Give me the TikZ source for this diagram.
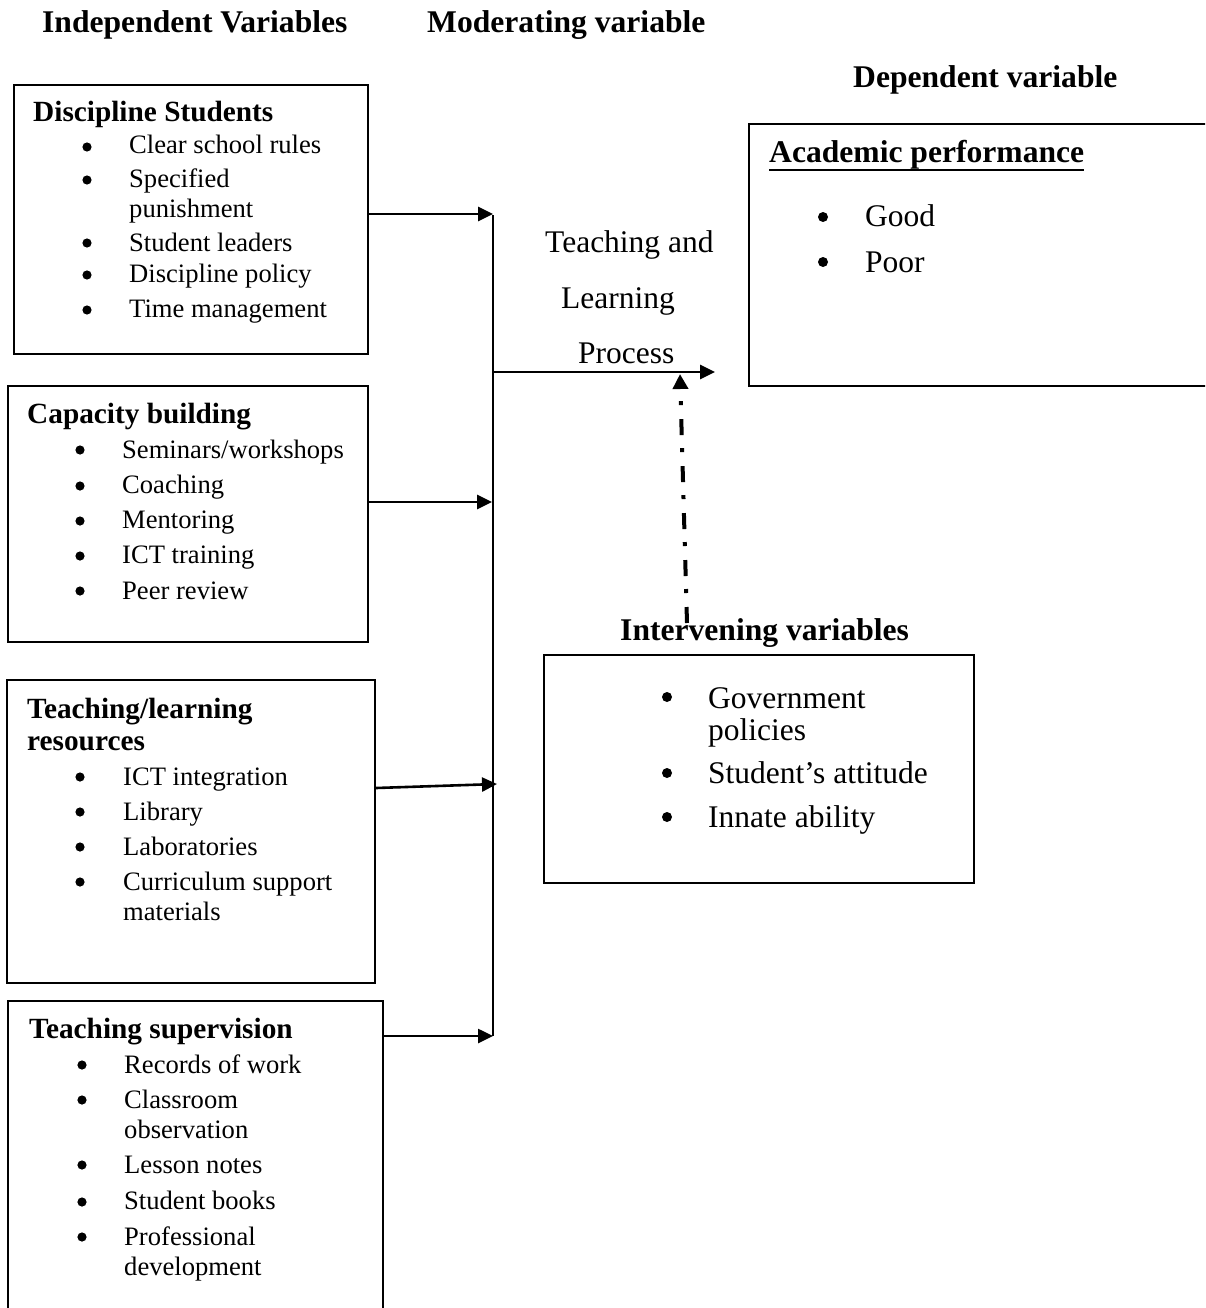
\documentclass[tikz,border=0pt]{standalone}
\usepackage{fontspec}
\setmainfont{Liberation Serif}
\usetikzlibrary{arrows.meta}
\begin{document}
\begin{tikzpicture}[x=1pt,y=-1pt,
  box/.style={draw, line width=2pt, anchor=north west, inner sep=0pt},
  txt/.style={anchor=base west, inner sep=0pt},
  hd/.style={txt, font=\fontsize{31.6}{36}\selectfont\bfseries},
  ttl/.style={txt, font=\fontsize{29.3}{34}\selectfont\bfseries},
  itm/.style={txt, font=\fontsize{26.6}{30}\selectfont},
  big/.style={txt, font=\fontsize{31.5}{36}\selectfont},
  arr/.style={line width=2.6pt, -{Triangle[length=15pt,width=14pt]}},
  dotarr/.style={line width=4pt, dash pattern=on 16pt off 14pt on 4pt off 13pt, -{Triangle[length=15pt,width=15pt]}},
]
\clip (0,0) rectangle (1205,1308);
\fill[white] (0,0) rectangle (1205,1308);

% headings
\node[hd] (hInd) at (42,33) {Independent Variables};
\node[hd] (hMod) at (427,33) {Moderating variable};
\node[hd] (hDep) at (853,88) {Dependent variable};

% Box 1: Discipline Students
\node[box, minimum width=354pt, minimum height=269pt] (ds) at (13,84) {};
\node[ttl] (dsT) at (33,122) {Discipline Students};
\foreach \yy/\tt [count=\i] in {154/Clear school rules,187/Specified,217/punishment,251/Student leaders,282/Discipline policy,317/Time management}
  \node[itm] (ds\i) at (129,\yy) {\tt};
\foreach \yy in {147,180,243,275,310} \fill (87,\yy) circle (4.6);

% Box 2: Capacity building
\node[box, minimum width=360pt, minimum height=256pt] (cb) at (7,385) {};
\node[ttl] (cbT) at (27,423) {Capacity building};
\foreach \yy/\tt [count=\i] in {458/{Seminars/workshops},493/Coaching,528/Mentoring,563/ICT training,599/Peer review}
  \node[itm] (cb\i) at (122,\yy) {\tt};
\foreach \yy in {450,486,521,556,591} \fill (80,\yy) circle (4.6);

% Box 3: Teaching/learning resources
\node[box, minimum width=368pt, minimum height=303pt] (tl) at (6,679) {};
\node[ttl] (tlT1) at (27,718) {Teaching/learning};
\node[ttl] (tlT2) at (27,750) {resources};
\foreach \yy/\tt [count=\i] in {785/ICT integration,820/Library,855/Laboratories,890/Curriculum support,920/materials}
  \node[itm] (tl\i) at (123,\yy) {\tt};
\foreach \yy in {777,812,847,882} \fill (80,\yy) circle (4.6);

% Box 4: Teaching supervision
\node[box, minimum width=375pt, minimum height=330pt] (ts) at (7,1000) {};
\node[ttl] (tsT) at (29,1038) {Teaching supervision};
\foreach \yy/\tt [count=\i] in {1073/Records of work,1108/Classroom,1138/observation,1173/Lesson notes,1209/Student books,1245/Professional,1275/development}
  \node[itm] (ts\i) at (124,\yy) {\tt};
\foreach \yy in {1065,1100,1165,1202,1237} \fill (82,\yy) circle (4.6);

% Academic performance box
\node[box, line width=2.2pt, minimum width=480pt, minimum height=262pt] (ap) at (748,123) {};
\node[hd] (apT) at (769,163) {Academic performance};
\draw[line width=2.5pt] ([yshift=-7pt]apT.base west) -- ([yshift=-7pt]apT.base east);
\node[big] (ap1) at (865,226) {Good};
\node[big] (ap2) at (865,272) {Poor};
\fill (823,217) circle (5);
\fill (823,262) circle (5);

% Teaching and Learning Process
\node[big] (tp1) at (545,252) {Teaching and};
\node[big] (tp2) at (561,308) {Learning};
\node[big] (tp3) at (578,363) {Process};

% Intervening variables
\node[hd] (ivT) at (620,640) {Intervening variables};
\node[box, minimum width=430pt, minimum height=228pt] (iv) at (543,654) {};
\node[big] (iv1) at (708,708) {Government};
\node[big] (iv2) at (708,740) {policies};
\node[big] (iv3) at (708,783) {Student’s attitude};
\node[big] (iv4) at (708,827) {Innate ability};
\foreach \yy in {697,773,817} \fill (667,\yy) circle (5);

% connectors
\coordinate (j1) at (493,214);
\coordinate (j2) at (492,502);
\coordinate (j3) at (497,784);
\coordinate (j4) at (493,1036);
\coordinate (jp) at (493,372);
\coordinate (pe) at (715,372);
\coordinate (dTop) at (680,374);
\coordinate (dBot) at (687,623);

\draw[line width=2pt] (493,215) -- (j4);
\draw[arr] (ds.east |- j1) -- (j1);
\draw[arr] (cb.east |- j2) -- (j2);
\draw[arr] (tl.east |- 0,788) -- (j3);
\draw[arr] (ts.east |- j4) -- (j4);
\draw[arr] (jp) -- (pe);
\draw[dotarr] (dBot) -- (dTop);
\end{tikzpicture}
\end{document}
